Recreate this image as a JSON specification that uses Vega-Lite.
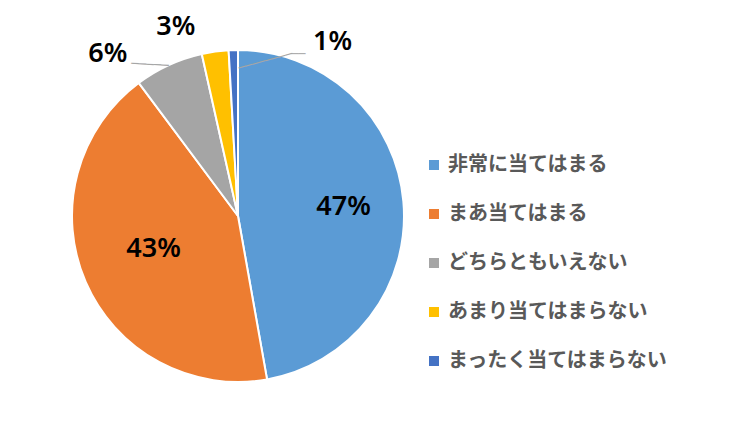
{
  "$schema": "https://vega.github.io/schema/vega-lite/v6.json",
  "width": 476,
  "height": 432,
  "padding": 0,
  "background": "white",
  "config": {"view": {"stroke": null}},
  "data": {"values": [
    {"cat": "非常に当てはまる", "value": 47.2, "label": "47%", "rank": 1},
    {"cat": "まあ当てはまる", "value": 42.6, "label": "43%", "rank": 2},
    {"cat": "どちらともいえない", "value": 6.7, "label": "6%", "rank": 3},
    {"cat": "あまり当てはまらない", "value": 2.6, "label": "3%", "rank": 4},
    {"cat": "まったく当てはまらない", "value": 0.9, "label": "1%", "rank": 5}
  ]},
  "encoding": {
    "theta": {"field": "value", "type": "quantitative", "stack": true},
    "order": {"field": "rank", "type": "quantitative"}
  },
  "layer": [
    {
      "mark": {"type": "arc", "radius": 166, "stroke": "white", "strokeWidth": 2},
      "encoding": {
        "color": {
          "field": "cat", "type": "nominal",
          "scale": {
            "domain": ["非常に当てはまる", "まあ当てはまる", "どちらともいえない", "あまり当てはまらない", "まったく当てはまらない"],
            "range": ["#5B9BD5", "#ED7D31", "#A5A5A5", "#FFC000", "#4472C4"]
          },
          "legend": {
            "title": null, "orient": "none", "legendX": 424, "legendY": 155,
            "symbolType": "square", "symbolSize": 100, "symbolStrokeWidth": 0,
            "labelFont": "Noto Sans CJK JP", "labelFontWeight": "bold", "labelFontSize": 20,
            "labelColor": "#595959", "labelLimit": 400, "rowPadding": 29, "labelOffset": 4
          }
        }
      }
    },
    {
      "mark": {"type": "text", "radius": 106, "font": "Noto Sans", "fontWeight": 600, "fontSize": 27, "color": "black"},
      "encoding": {"text": {"condition": {"test": "datum.rank == 1", "field": "label"}, "value": ""}}
    },
    {
      "mark": {"type": "text", "radius": 92, "dy": -4, "font": "Noto Sans", "fontWeight": 600, "fontSize": 27, "color": "black"},
      "encoding": {"text": {"condition": {"test": "datum.rank == 2", "field": "label"}, "value": ""}}
    },
    {
      "mark": {"type": "text", "radius": 190, "dx": -51, "dy": 11, "font": "Noto Sans", "fontWeight": 600, "fontSize": 27, "color": "black"},
      "encoding": {"text": {"condition": {"test": "datum.rank == 3", "field": "label"}, "value": ""}}
    },
    {
      "mark": {"type": "text", "radius": 190, "dx": -36, "dy": -1, "font": "Noto Sans", "fontWeight": 600, "fontSize": 27, "color": "black"},
      "encoding": {"text": {"condition": {"test": "datum.rank == 4", "field": "label"}, "value": ""}}
    },
    {
      "mark": {"type": "text", "radius": 190, "dx": 100, "dy": 16, "font": "Noto Sans", "fontWeight": 600, "fontSize": 27, "color": "black"},
      "encoding": {"text": {"condition": {"test": "datum.rank == 5", "field": "label"}, "value": ""}}
    },
    {
      "mark": {"type": "text", "radius": 190, "dx": -7.6, "dy": 21.7, "angle": 3, "font": "DejaVu Sans Mono", "fontSize": 12.5, "color": "#A6A6A6"},
      "encoding": {"text": {"condition": {"test": "datum.rank == 3", "value": "─────"}, "value": ""}}
    },
    {
      "mark": {"type": "text", "radius": 190, "dx": 22.4, "dy": 43, "angle": -15.3, "font": "DejaVu Sans Mono", "fontSize": 11.5, "color": "#A6A6A6"},
      "encoding": {"text": {"condition": {"test": "datum.rank == 5", "value": "────────"}, "value": ""}}
    },
    {
      "mark": {"type": "text", "radius": 190, "dx": 65.5, "dy": 28.2, "font": "DejaVu Sans Mono", "fontSize": 12, "color": "#A6A6A6"},
      "encoding": {"text": {"condition": {"test": "datum.rank == 5", "value": "──"}, "value": ""}}
    }
  ]
}
